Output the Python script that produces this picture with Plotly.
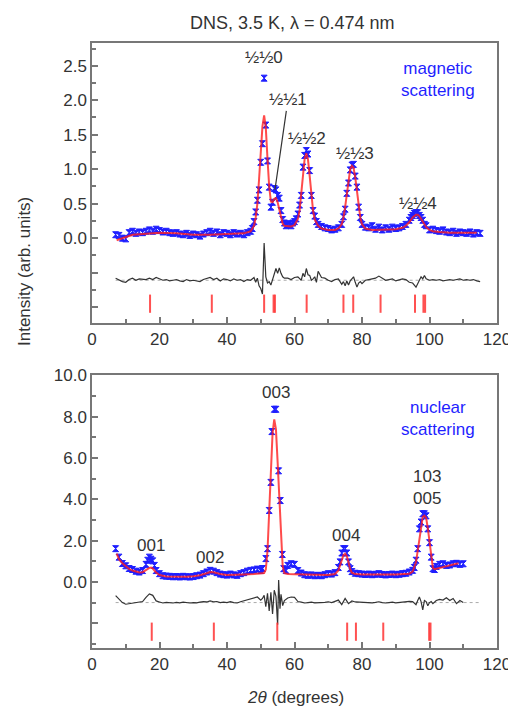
import plotly.graph_objects as go

# ---------------- magnetic (top) ----------------
mag_x = [7, 8, 9, 10, 11, 12, 13, 14, 15, 16, 17, 18, 19, 20, 21, 22, 23, 24, 25, 26, 27, 28, 29, 30,
         31, 32, 33, 34, 35, 36, 37, 38, 39, 40, 41, 42, 43, 44, 45, 46, 47, 47.5, 48, 48.5, 49, 49.5,
         50, 50.5, 51, 51.5, 52, 52.5, 53, 53.5, 54, 54.5, 55, 55.5, 56, 56.5, 57, 57.5, 58, 58.5, 59,
         59.5, 60, 60.5, 61, 61.5, 62, 62.5, 63, 63.5, 64, 64.5, 65, 65.5, 66, 66.5, 67, 68, 69, 70, 71,
         72, 73, 74, 74.5, 75, 75.5, 76, 76.5, 77, 77.5, 78, 78.5, 79, 79.5, 80, 81, 82, 83, 84, 85, 86,
         87, 88, 89, 90, 91, 92, 93, 94, 94.5, 95, 95.5, 96, 96.5, 97, 97.5, 98, 98.5, 99, 100, 101, 102,
         103, 104, 105, 106, 107, 108, 109, 110, 111, 112, 113, 114, 115]
mag_y = [0.05, 0.04, 0.00, -0.01, 0.08, 0.10, 0.07, 0.09, 0.08, 0.10, 0.12, 0.10, 0.13, 0.11, 0.09, 0.10,
         0.08, 0.07, 0.08, 0.06, 0.05, 0.07, 0.04, 0.06, 0.05, 0.03, 0.06, 0.08, 0.10, 0.07, 0.09, 0.05,
         0.08, 0.07, 0.05, 0.08, 0.06, 0.07, 0.05, 0.08, 0.10, 0.14, 0.24, 0.38, 0.55, 0.70, 1.10, 1.37,
         2.32, 1.64, 1.12, 0.74, 0.45, 0.52, 0.72, 0.70, 0.62, 0.58, 0.40, 0.27, 0.22, 0.18, 0.20, 0.21,
         0.18, 0.22, 0.24, 0.28, 0.35, 0.48, 0.62, 1.03, 1.20, 1.27, 1.22, 0.98, 0.62, 0.40, 0.32, 0.24,
         0.20, 0.17, 0.15, 0.14, 0.12, 0.13, 0.15, 0.20, 0.31, 0.42, 0.65, 0.80, 0.99, 1.06, 1.07, 0.90,
         0.74, 0.45, 0.30, 0.20, 0.16, 0.15, 0.18, 0.13, 0.16, 0.12, 0.15, 0.13, 0.16, 0.14, 0.15, 0.17,
         0.20, 0.26, 0.30, 0.33, 0.36, 0.37, 0.37, 0.33, 0.30, 0.26, 0.20, 0.18, 0.12, 0.13, 0.11, 0.10,
         0.12, 0.09, 0.08, 0.10, 0.07, 0.09, 0.08, 0.07, 0.09, 0.06, 0.08, 0.07]

mag_fit_x = [7.3, 10, 12, 15, 20, 25, 30, 35, 40, 45, 47, 48, 48.5, 49, 49.5, 50, 50.5, 51, 51.5, 52,
             52.5, 53, 53.5, 54, 54.5, 55, 55.5, 56, 56.5, 57, 58, 59, 60, 61, 61.5, 62, 62.5, 63, 63.5,
             64, 64.5, 65, 65.5, 66, 67, 68, 70, 72, 73, 74, 74.5, 75, 75.5, 76, 76.5, 77, 77.5, 78,
             78.5, 79, 79.5, 80, 81, 83, 85, 88, 90, 92, 93, 94, 95, 96, 96.5, 97, 98, 99, 100, 101,
             103, 106, 110, 114]
mag_fit_y = [-0.03, 0.02, 0.05, 0.06, 0.08, 0.07, 0.05, 0.05, 0.06, 0.07, 0.10, 0.18, 0.30, 0.50, 0.85,
             1.25, 1.62, 1.78, 1.60, 1.15, 0.75, 0.53, 0.52, 0.57, 0.58, 0.52, 0.40, 0.28, 0.21, 0.18,
             0.17, 0.17, 0.19, 0.28, 0.40, 0.62, 0.92, 1.15, 1.23, 1.14, 0.90, 0.62, 0.40, 0.27, 0.18,
             0.14, 0.12, 0.12, 0.14, 0.20, 0.30, 0.45, 0.66, 0.86, 1.00, 1.05, 1.02, 0.88, 0.67, 0.45,
             0.30, 0.20, 0.14, 0.12, 0.12, 0.12, 0.13, 0.15, 0.18, 0.23, 0.30, 0.34, 0.34, 0.32, 0.24,
             0.16, 0.12, 0.10, 0.09, 0.08, 0.08, 0.08]

mag_res_x = [7, 8, 9, 10, 11, 12, 13, 14, 15, 16, 17, 18, 19, 20, 21, 22, 23, 24, 25, 26, 27, 28, 29,
             30, 31, 32, 33, 34, 35, 36, 37, 38, 39, 40, 41, 42, 43, 44, 45, 46, 47, 48, 48.5, 49, 49.5,
             50, 50.5, 51, 51.5, 52, 52.5, 53, 53.5, 54, 54.5, 55, 55.5, 56, 56.5, 57, 58, 59, 60, 61,
             62, 62.5, 63, 63.5, 64, 64.5, 65, 65.5, 66, 66.5, 67, 68, 69, 70, 71, 72, 73, 74, 74.5, 75,
             75.5, 76, 76.5, 77, 77.5, 78, 78.5, 79, 79.5, 80, 81, 82, 83, 84, 85, 86, 87, 88, 89, 90,
             91, 92, 93, 94, 95, 96, 96.5, 97, 97.5, 98, 98.5, 99, 100, 101, 102, 103, 104, 105, 106,
             107, 108, 109, 110, 111, 112, 113, 114, 115]
mag_res_y = [0.03, 0.00, -0.02, -0.03, 0.01, 0.03, 0.00, 0.02, 0.01, 0.01, 0.03, 0.01, 0.04, 0.02, 0.00,
             0.01, -0.01, 0.00, 0.01, -0.01, -0.02, 0.01, -0.01, 0.00, -0.01, -0.02, 0.01, 0.03, 0.04,
             0.01, 0.03, -0.01, 0.02, 0.01, -0.01, 0.02, 0.00, 0.01, -0.02, 0.01, 0.00, 0.04, -0.03,
             0.03, -0.08, -0.12, -0.20, 0.54, 0.05, -0.04, -0.02, -0.07, 0.02, 0.12, 0.17, 0.10, 0.18,
             0.10, 0.05, 0.03, 0.03, 0.01, 0.04, 0.05, 0.00, 0.10, 0.05, 0.17, 0.08, 0.07, 0.00, 0.02,
             0.05, -0.03, 0.13, 0.04, 0.03, 0.00, -0.02, 0.01, 0.02, -0.06, -0.02, -0.08, -0.01, -0.07,
             -0.01, 0.02, 0.05, -0.03, -0.10, -0.04, -0.02, -0.05, 0.00, 0.01, 0.02, 0.03, 0.06, 0.03,
             0.00, 0.01, 0.02, -0.01, 0.00, 0.02, 0.01, -0.03, -0.04, -0.10, -0.05, 0.00, 0.05, 0.02,
             0.07, 0.02, 0.00, 0.01, 0.00, 0.01, -0.01, 0.00, 0.01, 0.00, 0.01, 0.02, 0.00, 0.01, 0.00,
             0.01, -0.01, -0.02]
mag_res_offset = -0.61

mag_bragg = [17.2, 35.5, 51.0, 53.8, 54.2, 63.6, 74.5, 77.4, 85.5, 95.7, 98.2, 98.7]
mag_bragg_level = -0.95

mag_labels = ["½½0", "½½2", "½½3", "½½4"]
mag_label_x = [51.0, 63.6, 77.9, 96.6]
mag_label_y = [2.62, 1.44, 1.23, 0.50]

# ---------------- nuclear (bottom) ----------------
nuc_x = [7, 8, 9, 10, 11, 12, 13, 14, 15, 16, 16.5, 17, 17.5, 18, 18.5, 19, 20, 21, 22, 23, 24, 25, 26,
         27, 28, 29, 30, 31, 32, 33, 34, 35, 36, 37, 38, 39, 40, 41, 42, 43, 44, 45, 46, 47, 48, 49, 50,
         50.5, 51.5, 52, 52.5, 53, 53.3, 54, 54.5, 55.3, 55.8, 56.4, 56.8, 57.5, 58, 59, 60, 61, 62,
         63, 64, 65, 66, 67, 68, 69, 70, 71, 72, 73, 73.5, 74, 74.5, 75, 75.5, 76, 76.5, 77, 78, 79,
         80, 81, 82, 83, 84, 85, 86, 87, 88, 89, 90, 91, 92, 93, 94, 95, 95.5, 96, 96.5, 97, 97.5,
         98, 98.5, 99, 99.5, 100, 100.5, 101, 101.5, 102, 103, 104, 105, 106, 107, 108, 109, 110]
nuc_y = [1.61, 1.20, 0.89, 0.78, 0.65, 0.60, 0.52, 0.48, 0.55, 0.85, 1.05, 1.20, 1.10, 1.02, 0.80, 0.55,
         0.40, 0.30, 0.28, 0.27, 0.25, 0.26, 0.24, 0.27, 0.25, 0.24, 0.26, 0.30, 0.33, 0.40, 0.48, 0.56,
         0.52, 0.45, 0.38, 0.35, 0.33, 0.38, 0.34, 0.32, 0.40, 0.45, 0.52, 0.56, 0.58, 0.62, 0.55, 0.65,
         1.13, 1.61, 3.46, 4.82, 7.28, 8.36, 8.36, 5.38, 3.94, 1.33, 0.64, 0.55, 0.80, 0.88, 0.85, 0.55,
         0.43, 0.35, 0.32, 0.34, 0.30, 0.32, 0.30, 0.35, 0.40, 0.38, 0.45, 0.70, 0.97, 1.40, 1.61, 1.61,
         1.40, 0.97, 0.64, 0.50, 0.42, 0.40, 0.38, 0.36, 0.38, 0.35, 0.37, 0.40, 0.36, 0.34, 0.36, 0.38,
         0.35, 0.37, 0.40, 0.42, 0.48, 0.56, 0.70, 1.05, 1.61, 2.57, 2.90, 3.30, 3.30, 3.20, 2.57, 1.90,
         1.20, 0.64, 0.60, 0.75, 0.85, 0.88, 0.80, 0.82, 0.88, 0.90, 0.85, 0.88]

nuc_fit_x = [7.3, 8, 9, 10, 11, 12, 13, 14, 15, 16, 17, 17.5, 18, 19, 20, 22, 25, 28, 30, 32, 34, 35,
             36, 38, 40, 42, 45, 48, 50, 51, 51.5, 52, 52.5, 53, 53.5, 54, 54.5, 55, 55.5, 56, 56.5,
             57, 58, 60, 62, 65, 68, 70, 72, 73, 74, 74.5, 75, 75.5, 76, 76.5, 77, 78, 80, 85, 90, 94,
             95, 96, 96.5, 97, 97.5, 98, 98.5, 99, 99.5, 100, 100.5, 101, 101.5, 102, 104, 106, 108.6]
nuc_fit_y = [1.37, 1.10, 0.90, 0.75, 0.63, 0.55, 0.50, 0.46, 0.47, 0.58, 0.68, 0.70, 0.65, 0.45, 0.33,
             0.26, 0.25, 0.25, 0.27, 0.32, 0.42, 0.48, 0.47, 0.38, 0.34, 0.34, 0.36, 0.38, 0.40, 0.43,
             0.60, 1.50, 3.40, 5.60, 7.20, 7.87, 7.40, 5.80, 3.90, 1.90, 0.75, 0.42, 0.38, 0.37, 0.36,
             0.34, 0.33, 0.34, 0.38, 0.55, 1.05, 1.30, 1.37, 1.25, 0.95, 0.62, 0.45, 0.38, 0.36, 0.35,
             0.36, 0.40, 0.50, 0.95, 1.50, 2.20, 2.80, 3.15, 3.21, 3.10, 2.60, 1.90, 1.15, 0.68, 0.62,
             0.64, 0.72, 0.80, 0.90]

nuc_res_x = [7, 8, 9, 10, 11, 12, 13, 14, 15, 16, 17, 18, 19, 20, 21, 22, 23, 24, 25, 26, 27, 28, 29,
             30, 31, 32, 33, 34, 35, 36, 37, 38, 39, 40, 41, 42, 43, 44, 45, 46, 47, 48, 49, 50, 50.5,
             51, 51.5, 52, 52.5, 53, 53.5, 54, 54.5, 55, 55.3, 55.7, 56, 56.5, 57, 58, 59, 60, 61, 62,
             63, 64, 65, 66, 67, 68, 69, 70, 71, 72, 73, 74, 75, 76, 77, 78, 79, 80, 81, 82, 83, 84, 85,
             86, 87, 88, 89, 90, 91, 92, 93, 94, 95, 96, 96.5, 97, 97.5, 98, 98.5, 99, 99.5, 100, 100.5,
             101, 102, 103, 104, 105, 106, 107, 108, 109, 110]
nuc_res_y = [0.34, 0.15, 0.00, -0.08, -0.05, -0.03, -0.02, 0.02, 0.05, 0.25, 0.42, 0.35, 0.08, 0.03,
             -0.02, 0.01, 0.00, -0.02, 0.01, -0.01, 0.02, 0.00, -0.02, 0.00, -0.01, 0.02, 0.05, 0.03,
             0.08, 0.04, 0.05, 0.00, 0.02, 0.00, 0.04, 0.00, -0.02, 0.04, 0.08, 0.12, 0.18, 0.22, 0.27,
             0.12, 0.20, 0.35, -0.20, 0.45, -0.40, 0.50, -0.55, 0.60, 0.30, -1.07, 1.09, -0.30, 0.40,
             -0.15, 0.10, 0.22, 0.27, 0.25, 0.05, 0.02, -0.02, 0.00, 0.02, -0.01, 0.00, -0.02, 0.01,
             0.04, 0.00, 0.06, 0.12, -0.10, 0.20, -0.05, 0.08, 0.03, 0.02, 0.01, 0.00, 0.02, -0.01, 0.01,
             0.04, 0.00, -0.02, 0.00, 0.02, -0.01, 0.01, 0.03, 0.02, 0.06, 0.05, -0.10, 0.10, 0.27, 0.05,
             -0.35, 0.10, 0.05, -0.15, 0.00, 0.05, -0.05, 0.10, 0.15, 0.12, 0.23, 0.10, 0.20, -0.05,
             0.10, 0.00]
nuc_res_offset = -1.0

nuc_bragg = [17.7, 36.1, 54.9, 75.6, 78.2, 86.3, 99.9, 100.3]
nuc_bragg_level = -2.41

nuc_labels = ["001", "002", "003", "004", "103<br>005"]
nuc_label_x = [17.4, 35.0, 54.5, 75.3, 99.2]
nuc_label_y = [1.77, 1.20, 9.16, 2.25, 4.56]

x_ticks = [0, 20, 40, 60, 80, 100, 120]
mag_yticks = [-1.0, -0.5, 0.0, 0.5, 1.0, 1.5, 2.0, 2.5]
mag_yticktext = ["", "", "0.0", "0.5", "1.0", "1.5", "2.0", "2.5"]
nuc_yticks = [-2, 0, 2, 4, 6, 8, 10]
nuc_yticktext = ["", "0.0", "2.0", "4.0", "6.0", "8.0", "10.0"]

# ---------------- styles ----------------
FONT = "Liberation Sans, Arial, sans-serif"
TXT = "#333333"
BLUE = "#1f1fff"
RED = "rgba(255,30,30,0.8)"
TICKRED = "rgba(255,50,50,0.85)"
AXC = "#777777"
W, H = 516, 706
OFF = 8  # page body margin shifts the figure by this many pixels


def px(xp):
    return (xp - OFF) / W


def py(yp):
    return 1 - (yp - OFF) / H


fig = go.Figure()


def add_panel(xa, ya, x, y, fx, fy, rx, ry, roff, bragg, blevel):
    fig.add_trace(go.Scatter(x=[rx[0], 115], y=[roff, roff], mode="lines",
                             line=dict(color="#aaaaaa", width=1, dash="dot"),
                             xaxis=xa, yaxis=ya, showlegend=False, hoverinfo="skip"))
    fig.add_trace(go.Scatter(x=rx, y=[v + roff for v in ry], mode="lines",
                             line=dict(color="#333333", width=1.2),
                             xaxis=xa, yaxis=ya, showlegend=False))
    fig.add_trace(go.Scatter(x=x, y=y, mode="markers",
                             marker=dict(symbol="hourglass", size=6, color=BLUE,
                                         line=dict(color=BLUE, width=1)),
                             xaxis=xa, yaxis=ya, showlegend=False))
    fig.add_trace(go.Scatter(x=fx, y=fy, mode="lines",
                             line=dict(color=RED, width=2),
                             xaxis=xa, yaxis=ya, showlegend=False))
    fig.add_trace(go.Scatter(x=bragg, y=[blevel] * len(bragg), mode="markers",
                             marker=dict(symbol="line-ns-open", size=13, color=TICKRED,
                                         line=dict(color=TICKRED, width=2)),
                             xaxis=xa, yaxis=ya, showlegend=False))


add_panel("x", "y", mag_x, mag_y, mag_fit_x, mag_fit_y, mag_res_x, mag_res_y, mag_res_offset,
          mag_bragg, mag_bragg_level)
add_panel("x2", "y2", nuc_x, nuc_y, nuc_fit_x, nuc_fit_y, nuc_res_x, nuc_res_y, nuc_res_offset,
          nuc_bragg, nuc_bragg_level)

xdom = [px(92), px(497)]
axis_common = dict(showline=True, linecolor=AXC, linewidth=1.5, mirror=True,
                   ticks="inside", ticklen=6, tickwidth=1.5, tickcolor=AXC,
                   showgrid=False, zeroline=False, automargin=False,
                   tickfont=dict(family=FONT, size=17, color=TXT))

fig.update_layout(
    width=W, height=H,
    margin=dict(l=0, r=0, t=0, b=0),
    paper_bgcolor="white", plot_bgcolor="white",
    font=dict(family=FONT, size=17, color=TXT),
    xaxis=dict(domain=xdom, anchor="y", range=[0, 120], tickvals=x_ticks,
               minor=dict(dtick=10, ticks="inside", ticklen=4, tickcolor=AXC, tickwidth=1.5),
               **axis_common),
    yaxis=dict(domain=[py(323), py(43)], anchor="x", range=[-1.23, 2.83],
               tickvals=mag_yticks, ticktext=mag_yticktext,
               minor=dict(dtick=0.25, ticks="inside", ticklen=4, tickcolor=AXC, tickwidth=1.5),
               **axis_common),
    xaxis2=dict(domain=xdom, anchor="y2", range=[0, 120], tickvals=x_ticks,
                minor=dict(dtick=10, ticks="inside", ticklen=4, tickcolor=AXC, tickwidth=1.5),
                **axis_common),
    yaxis2=dict(domain=[py(648), py(375)], anchor="x2", range=[-3.2, 10.02],
                tickvals=nuc_yticks, ticktext=nuc_yticktext,
                minor=dict(dtick=1, ticks="inside", ticklen=4, tickcolor=AXC, tickwidth=1.5),
                **axis_common),
)

ann = []
for t, xv, yv in zip(mag_labels, mag_label_x, mag_label_y):
    ann.append(dict(x=xv, y=yv, xref="x", yref="y", text=t, showarrow=False,
                    font=dict(family=FONT, size=17, color=TXT)))
# ½½1 with pointer line
ann.append(dict(x=54.2, y=0.70, xref="x", yref="y", text="½½1", showarrow=True,
                arrowhead=0, arrowwidth=1.2, arrowcolor="#333333", ax=13, ay=-90,
                font=dict(family=FONT, size=17, color=TXT)))
ann.append(dict(x=102.5, y=2.30, xref="x", yref="y", text="magnetic<br>scattering",
                showarrow=False, font=dict(family=FONT, size=17, color=BLUE)))
for t, xv, yv in zip(nuc_labels, nuc_label_x, nuc_label_y):
    ann.append(dict(x=xv, y=yv, xref="x2", yref="y2", text=t, showarrow=False,
                    font=dict(family=FONT, size=17, color=TXT)))
ann.append(dict(x=102.6, y=7.89, xref="x2", yref="y2", text="nuclear<br>scattering",
                showarrow=False, font=dict(family=FONT, size=17, color=BLUE)))
ann.append(dict(x=px(292), y=py(23), xref="paper", yref="paper", xanchor="center",
                yanchor="middle", text="DNS, 3.5 K, λ = 0.474 nm", showarrow=False,
                font=dict(family=FONT, size=18, color=TXT)))
ann.append(dict(x=px(25), y=py(272), xref="paper", yref="paper", xanchor="center",
                yanchor="middle", text="Intensity (arb. units)", textangle=-90, showarrow=False,
                font=dict(family=FONT, size=17, color=TXT)))
ann.append(dict(x=px(295), y=py(697), xref="paper", yref="paper", xanchor="center",
                yanchor="middle", text="<i>2θ</i> (degrees)", showarrow=False,
                font=dict(family=FONT, size=17, color=TXT)))
fig.update_layout(annotations=ann)

fig.write_html("out.html")
